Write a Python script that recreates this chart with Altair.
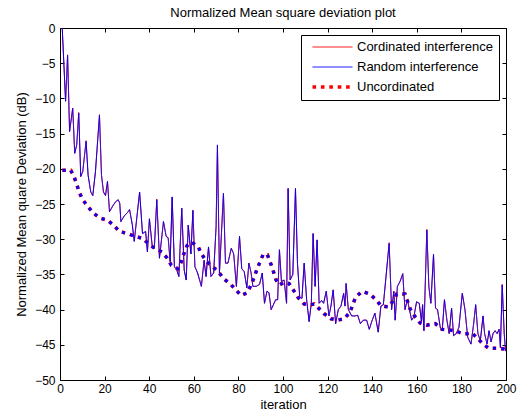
import altair as alt
import pandas as pd

FONT = "Liberation Sans"

# ---------------- data ----------------
iteration = [1, 2.5, 3.4, 4.3, 5.7, 6.6, 7.5, 8.4, 9.3, 10.2, 11.7, 12.6, 13.8, 14.7, 15.9,
             17.7, 18.6, 19.5, 20.4, 21.3, 22.2, 23.6, 24.9, 26.1, 26.8, 27.3, 28.8, 30.3, 31.2,
             32.4, 33.3, 34.7, 35.7, 37.0, 38.4, 39.2, 40.1, 41.4, 42.3, 43.4, 44.6, 46.4, 47.6,
             48.5, 49.4, 50.3, 51.3, 52.4, 53.3, 54.6, 55.7, 56.6, 57.5, 58.7, 59.6, 60.5, 61.7,
             63.4, 64.6, 65.5, 66.6, 67.7, 68.9, 70.0, 70.6, 71.5, 73.3, 74.2, 75.3, 76.8, 77.9,
             79.1, 80.5, 81.5, 82.6, 83.8, 84.7, 85.7, 86.5, 88.0, 89.5, 90.7, 91.7, 92.8, 93.7,
             94.7, 96.7, 97.6, 98.4, 99.3, 100.5, 101.6, 102.3, 103.2, 104.4, 105.6, 106.5, 107.5,
             108.5, 109.5, 110.6, 111.7, 112.7, 113.5, 114.4, 115.3, 116.2, 117.3, 118.2, 119.4,
             120.6, 121.5, 122.5, 123.6, 124.8, 126.0, 127.2, 127.8, 128.3, 129.3, 130.8, 132.3,
             133.5, 134.7, 136.0, 137.5, 138.7, 139.8, 141.2, 142.7, 143.9, 145.0, 146.2, 147.6,
             148.7, 149.7, 150.3, 151.3, 152.5, 153.7, 154.7, 155.8, 156.7, 157.7, 158.7, 159.9,
             161.1, 162.1, 162.6, 163.2, 164.5, 165.4, 166.3, 167.5, 168.4, 169.3, 170.5, 171.4,
             172.4, 173.5, 174.5, 175.6, 176.5, 177.7, 178.9, 180.4, 181.6, 182.8, 184.3, 185.5,
             186.4, 187.4, 188.5, 189.7, 190.4, 191.5, 192.4, 193.3, 194.2, 195.1, 196.0, 196.9,
             197.5, 198.3, 199.2, 199.8]

random_msd = [0, -10.4, -3.9, -14.7, -11.4, -17.8, -16.6, -12.1, -21.1, -20.4, -16.1, -20.9,
              -23.3, -23.8, -20.4, -12.4, -20.9, -23.3, -23.8, -21.8, -26.1, -25.3, -24.7, -24.4,
              -24.9, -27.5, -26.7, -26.2, -25.8, -27.9, -30.3, -26.2, -23.3, -29.2, -28.9, -31.8,
              -27.1, -31.1, -31.3, -24.4, -32.7, -27.5, -29.6, -29.8, -33.2, -24.0, -33.9, -34.4,
              -35.3, -25.6, -34.4, -35.8, -28.0, -32.1, -25.9, -33.9, -34.8, -36.7, -33.0, -35.3,
              -31.1, -35.3, -34.8, -28.2, -16.6, -34.8, -23.5, -33.4, -33.4, -31.3, -32.1, -36.7,
              -29.6, -34.2, -34.6, -36.9, -33.4, -34.8, -36.7, -36.7, -36.4, -34.8, -39.1, -37.4,
              -37.6, -40.0, -38.6, -38.6, -31.5, -36.0, -35.8, -39.1, -22.8, -35.8, -35.0, -22.8,
              -33.5, -38.2, -38.4, -33.4, -38.6, -41.7, -39.1, -29.2, -36.7, -30.1, -39.1, -38.7,
              -39.1, -37.4, -40.9, -39.5, -37.2, -42.0, -40.0, -39.5, -37.7, -39.5, -36.3, -40.0,
              -40.9, -40.9, -40.8, -42.0, -41.5, -41.5, -42.8, -41.7, -40.5, -43.2, -39.5, -39.3,
              -35.3, -30.6, -40.0, -37.4, -41.5, -36.7, -36.0, -34.9, -40.0, -38.6, -40.0, -41.5,
              -41.0, -38.9, -39.1, -41.7, -39.3, -43.0, -28.7, -36.7, -39.1, -32.2, -39.8, -40.0,
              -42.5, -43.0, -38.6, -41.5, -43.4, -39.8, -43.7, -43.4, -42.5, -37.7, -40.0, -43.9,
              -44.9, -42.0, -39.3, -43.4, -44.4, -40.9, -43.4, -44.9, -43.0, -44.6, -43.4, -43.0,
              -43.4, -42.8, -45.4, -36.5, -43.4, -45.9]

coordinated_msd = [0, -10.4, -3.8, -14.7, -11.4, -17.8, -16.6, -12.0, -21.1, -20.4, -16.0, -20.9,
                   -23.3, -23.8, -20.4, -12.3, -20.9, -23.3, -23.8, -21.8, -26.1, -25.3, -24.7,
                   -24.4, -24.9, -27.5, -26.7, -26.2, -25.8, -27.9, -30.3, -26.2, -23.3, -29.2,
                   -28.9, -31.8, -27.1, -31.1, -31.3, -24.3, -32.7, -27.5, -29.6, -29.8, -33.2,
                   -24.0, -33.9, -34.4, -35.3, -25.6, -34.4, -35.8, -28.0, -32.1, -25.9, -33.9,
                   -34.8, -36.7, -33.0, -35.3, -31.1, -35.3, -34.8, -28.2, -16.7, -34.8, -23.5,
                   -33.4, -33.4, -31.3, -32.1, -36.7, -29.6, -34.2, -34.6, -36.9, -33.4, -34.8,
                   -36.7, -36.7, -36.4, -34.8, -39.1, -37.4, -37.6, -40.0, -38.6, -38.6, -31.5,
                   -36.0, -35.8, -39.1, -22.8, -35.8, -35.0, -22.8, -33.5, -38.2, -38.4, -33.4,
                   -38.6, -41.7, -39.1, -29.2, -36.7, -30.1, -39.1, -38.7, -39.1, -37.4, -40.9,
                   -39.5, -37.2, -42.0, -40.0, -39.5, -37.7, -39.5, -36.3, -40.0, -40.9, -40.9,
                   -40.8, -42.0, -41.5, -41.5, -42.8, -41.7, -40.5, -43.2, -39.5, -39.3, -35.3,
                   -30.5, -40.0, -37.4, -41.5, -36.7, -36.0, -34.9, -40.0, -38.6, -40.0, -41.5,
                   -41.0, -38.9, -39.1, -41.7, -39.3, -43.0, -28.6, -36.7, -39.1, -32.1, -39.8,
                   -40.0, -42.5, -43.0, -38.6, -41.5, -43.4, -39.8, -43.7, -43.4, -42.5, -37.7,
                   -40.0, -43.9, -44.9, -42.0, -39.3, -43.4, -44.4, -40.9, -43.4, -44.9, -43.0,
                   -44.6, -43.4, -43.0, -43.4, -42.8, -45.4, -36.4, -43.4, -45.9]

unc_iteration = [1, 4.8, 6.3, 7.5, 8.7, 10.2, 12.6, 15, 18, 21.3, 24.3, 26.6, 30.3, 33.6, 37.2,
                 39.5, 42.5, 45.7, 48.1, 49.9, 52.9, 54.4, 55.5, 57, 59, 62, 63.5, 65.7, 68.4,
                 71, 73.3, 76.2, 78.9, 81.2, 84, 86, 88.2, 89.7, 91.2, 93, 95, 96.9, 98.4, 100.6,
                 102.7, 105, 106.8, 109.5, 112.5, 114, 116.3, 118.5, 121.5, 124.5, 127.4, 130,
                 132.6, 135.6, 139, 142, 144, 147.5, 149.7, 151, 154.7, 155.8, 157, 159.2, 161.5,
                 164.5, 168.3, 171.3, 174.7, 178, 181.3, 184.7, 187, 189.7, 192.3, 196, 200]
unc_msd = [-20.2, -20.2, -21.1, -22.2, -23.4, -24.4, -25.4, -26.3, -27.0, -27.3, -28.1, -28.9,
           -29.2, -29.6, -29.9, -30.6, -31.3, -31.8, -32.7, -33.7, -34.2, -33.2, -32.1, -30.9,
           -30.4, -31.1, -32.1, -33.2, -33.9, -34.6, -35.6, -36.3, -37.2, -38.0, -37.6, -36.3,
           -34.4, -33.2, -32.1, -32.2, -33.9, -35.8, -36.5, -36.1, -36.3, -37.4, -38.3, -39.2,
           -39.3, -39.2, -39.9, -40.6, -41.3, -41.5, -41.3, -40.4, -38.2, -37.4, -37.8, -38.7,
           -39.5, -39.6, -38.6, -37.8, -37.8, -38.8, -39.9, -41.0, -41.9, -42.2, -42.0, -42.8,
           -42.9, -43.1, -43.5, -43.3, -44.0, -44.9, -45.5, -45.5, -45.6]

series_names = ["Cordinated interference", "Random interference", "Uncordinated"]
series_colors = ["#ff0000", "#0000ff", "#ff0000"]
series_dashes = [[1, 0], [1, 0], [3.6, 4.8]]
series_widths = [1, 1, 3.6]

x_ticks = [0, 20, 40, 60, 80, 100, 120, 140, 160, 180, 200]
y_ticks = [-50, -45, -40, -35, -30, -25, -20, -15, -10, -5, 0]

df_c = pd.DataFrame({"iteration": iteration, "msd": coordinated_msd, "series": series_names[0]})
df_r = pd.DataFrame({"iteration": iteration, "msd": random_msd, "series": series_names[1]})
df_u = pd.DataFrame({"iteration": unc_iteration, "msd": unc_msd, "series": series_names[2]})

# ---------------- styling ----------------
xs = alt.Scale(domain=[0, 200], nice=False, zero=False)
ys = alt.Scale(domain=[-50, 0], nice=False, zero=False)

axis_common = dict(offset=-4, tickSize=4, domain=False, grid=False, tickColor="black",
                   tickWidth=1, labelColor="black", labelFont=FONT, labelFontSize=12,
                   titleFont=FONT, titleFontSize=13, titleFontWeight="normal",
                   titleColor="black", labelFlush=False, labelOverlap=False)

x_bottom = alt.Axis(orient="bottom", values=x_ticks, title="iteration",
                    labelPadding=3, titlePadding=4, **axis_common)
y_left = alt.Axis(orient="left", values=y_ticks,
                  title="Normalized Mean quare Deviation (dB)",
                  labelPadding=5, titlePadding=6, **axis_common)
x_top = alt.Axis(orient="top", values=x_ticks, labels=False, title=None, **axis_common)
y_right = alt.Axis(orient="right", values=y_ticks, labels=False, title=None, **axis_common)

leg = alt.Legend(title=None, orient="none", legendX=241, legendY=7, direction="vertical",
                 symbolType="M-10,0L10,0", symbolSize=16, symbolOffset=19, labelOffset=18,
                 clipHeight=12, rowPadding=7, padding=6, strokeColor="black",
                 fillColor="white", labelFont=FONT, labelFontSize=13, labelColor="black",
                 symbolOpacity=1, labelLimit=300)

color_enc = alt.Color("series:N", scale=alt.Scale(domain=series_names, range=series_colors),
                      legend=leg)
dash_enc = alt.StrokeDash("series:N", scale=alt.Scale(domain=series_names, range=series_dashes),
                          legend=leg)
width_enc = alt.StrokeWidth("series:N",
                            scale=alt.Scale(type="ordinal", domain=series_names,
                                            range=series_widths),
                            legend=leg)

l_coord = alt.Chart(df_c).mark_line(clip=True).encode(
    x=alt.X("iteration:Q", scale=xs, axis=x_bottom),
    y=alt.Y("msd:Q", scale=ys, axis=y_left),
    color=color_enc, strokeDash=dash_enc, strokeWidth=width_enc,
)
l_rand = alt.Chart(df_r).mark_line(clip=True).encode(
    x=alt.X("iteration:Q", scale=xs, axis=None),
    y=alt.Y("msd:Q", scale=ys, axis=None),
    color=color_enc, strokeDash=dash_enc, strokeWidth=width_enc,
)
l_unc = alt.Chart(df_u).mark_line(clip=True).encode(
    x=alt.X("iteration:Q", scale=xs, axis=None),
    y=alt.Y("msd:Q", scale=ys, axis=None),
    color=color_enc, strokeDash=dash_enc, strokeWidth=width_enc,
)
l_unc_blue = alt.Chart(df_u).mark_line(clip=True, color="#0000ff", strokeWidth=3,
                                        strokeDash=[3.0, 5.4], strokeDashOffset=-0.4).encode(
    x=alt.X("iteration:Q", scale=xs, axis=x_top),
    y=alt.Y("msd:Q", scale=ys, axis=y_right),
)

chart = alt.layer(l_coord, l_rand, l_unc, l_unc_blue).resolve_axis(
    x="independent", y="independent"
).properties(
    width=446, height=352,
    title=alt.TitleParams("Normalized Mean square deviation plot", font=FONT, fontSize=13,
                          fontWeight="normal", color="black", frame="group", offset=2),
    autosize=alt.AutoSizeParams(type="none"),
    padding={"left": 60, "top": 28, "right": 12, "bottom": 37},
    background="white",
).configure_view(stroke="black", strokeWidth=1)

chart.save("out.html", embed_options={"renderer": "svg", "actions": False})
